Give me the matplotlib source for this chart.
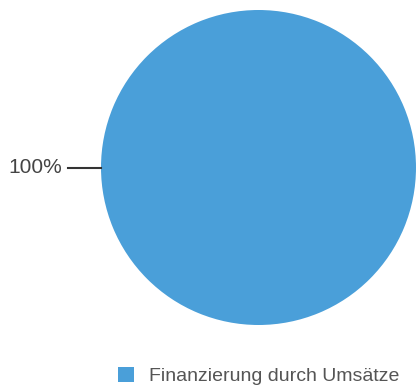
import numpy as np
import matplotlib.pyplot as plt

plt.rcParams['font.family'] = ['Liberation Sans', 'DejaVu Sans']

categories = ["Finanzierung durch Umsätze"]
values = [100]
pct_labels = ["100%"]
colors = ["#4a9fd9"]

W, H = 416, 389
fig = plt.figure(figsize=(W / 100, H / 100), dpi=100)
ax = fig.add_axes([0, 0, 1, 1])

cx, cy, r = 258.5, H - 167.5, 157.5
wedges, texts = ax.pie(values, colors=colors, startangle=0, radius=r,
                       center=(cx, cy), labels=pct_labels,
                       labeldistance=1.245, frame=True,
                       wedgeprops=dict(linewidth=0),
                       textprops=dict(fontsize=15, color='#444444'))
ax.set_xlim(0, W)
ax.set_ylim(0, H)
ax.set_aspect('equal')
ax.axis('off')

# leader line from the slice edge to the label
for w in wedges:
    mid = np.deg2rad((w.theta1 + w.theta2) / 2)
    x0, y0 = cx + r * np.cos(mid), cy + r * np.sin(mid)
    x1, y1 = cx + r * 1.21 * np.cos(mid), cy + r * 1.21 * np.sin(mid)
    ax.plot([x0, x1], [y0, y1], color='#333333', lw=1.5)
for t in texts:
    t.set_ha('right')
    t.set_va('center')

leg = fig.legend(wedges, categories, loc='center left',
                 bbox_to_anchor=(100 / W, 1 - 376 / H), frameon=False,
                 fontsize=14, handlelength=0.85, handleheight=0.85,
                 handletextpad=0.75, labelcolor='#555555')

fig.savefig("out.png", dpi=100)
